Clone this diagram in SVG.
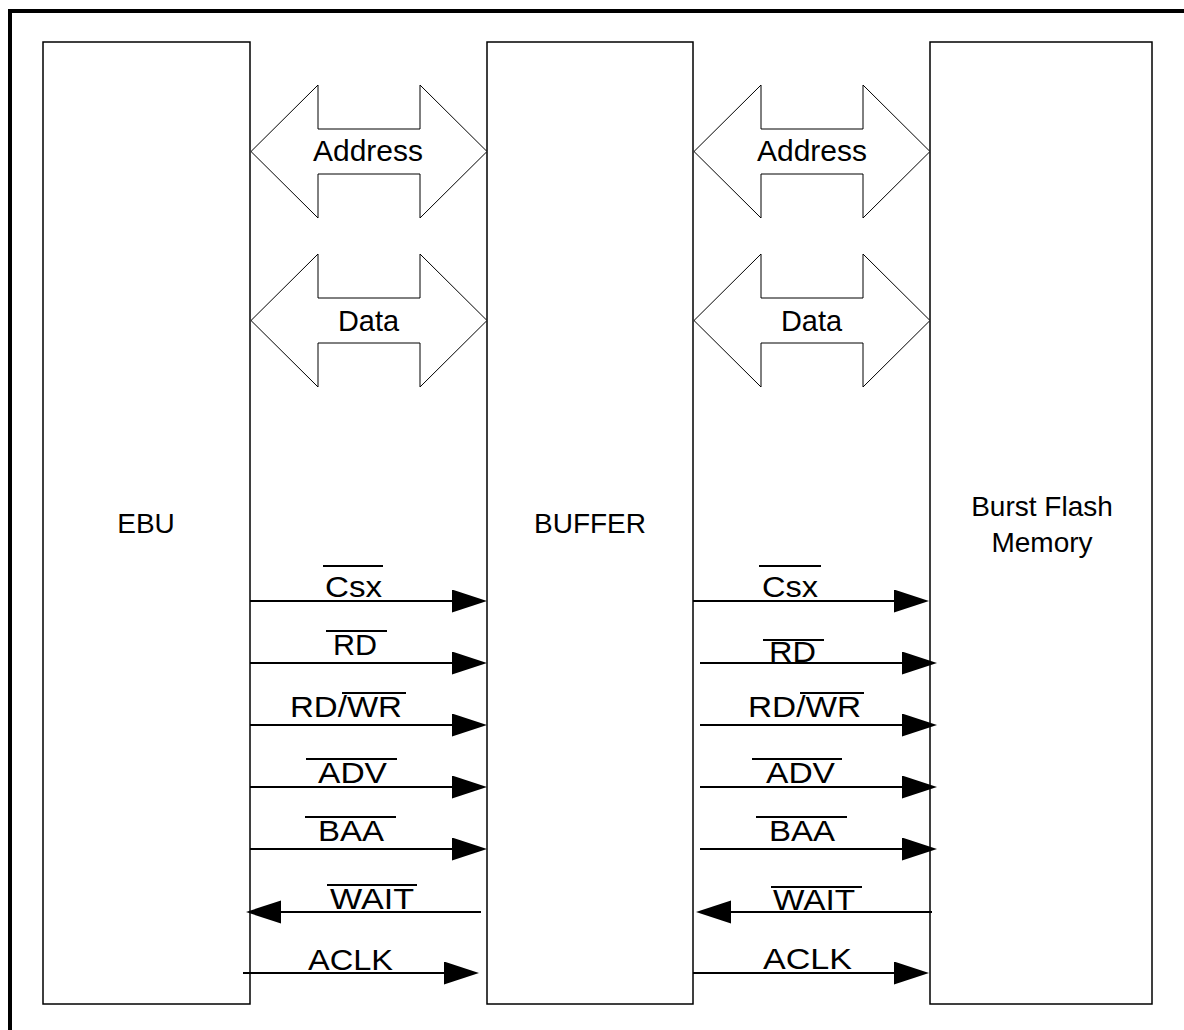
<svg xmlns="http://www.w3.org/2000/svg" width="1184" height="1030" viewBox="0 0 1184 1030">
<style>
.box{fill:#fff;stroke:#000;stroke-width:1.5}
.bus{fill:#fff;stroke:#000;stroke-width:1}
.sig{stroke:#000;stroke-width:2;fill:none}
.ov{stroke:#000;stroke-width:2}
text{font-family:"Liberation Sans",Arial,sans-serif;font-size:28px;fill:#000}
.lb{font-size:30px}
.c{text-anchor:middle}
</style>
<defs>
<marker id="ah" markerUnits="userSpaceOnUse" markerWidth="36" markerHeight="24" refX="25" refY="11.5" orient="auto" viewBox="0 0 36 24">
<path d="M0,0 L35,11.5 L0,23 z" fill="#000"/>
</marker>
<polygon id="dbl" points="0,0 67,-66.5 67,-22.5 169,-22.5 169,-66.5 236,0 169,66.5 169,22.5 67,22.5 67,66.5"/>
</defs>
<rect x="10" y="11" width="1182" height="1030" fill="#fff" stroke="#000" stroke-width="4"/>
<g id="ebu"><rect class="box" x="43" y="42" width="207" height="962"/><text class="c" x="146" y="533">EBU</text></g>
<g id="buffer"><rect class="box" x="487" y="42" width="206" height="962"/><text class="c" x="590" y="533">BUFFER</text></g>
<g id="flash"><rect class="box" x="930" y="42" width="222" height="962"/><text class="c" x="1042" y="516">Burst Flash</text><text class="c" x="1042" y="552">Memory</text></g>
<g id="bus-address-left"><use href="#dbl" class="bus" x="251" y="151.5"/><text class="lb" x="313" y="161" textLength="110" lengthAdjust="spacingAndGlyphs">Address</text></g>
<g id="bus-data-left"><use href="#dbl" class="bus" x="251" y="320.5"/><text class="lb" x="338" y="331" textLength="61" lengthAdjust="spacingAndGlyphs">Data</text></g>
<g id="bus-address-right"><use href="#dbl" class="bus" x="694" y="151.5"/><text class="lb" x="757" y="161" textLength="110" lengthAdjust="spacingAndGlyphs">Address</text></g>
<g id="bus-data-right"><use href="#dbl" class="bus" x="694" y="320.5"/><text class="lb" x="781" y="331" textLength="61" lengthAdjust="spacingAndGlyphs">Data</text></g>
<g id="connectors">
<line class="sig" x1="250" y1="601" x2="477" y2="601" marker-end="url(#ah)"/>
<line class="sig" x1="250" y1="663" x2="477" y2="663" marker-end="url(#ah)"/>
<line class="sig" x1="250" y1="725" x2="477" y2="725" marker-end="url(#ah)"/>
<line class="sig" x1="250" y1="787" x2="477" y2="787" marker-end="url(#ah)"/>
<line class="sig" x1="250" y1="849" x2="477" y2="849" marker-end="url(#ah)"/>
<line class="sig" x1="481" y1="912" x2="256" y2="912" marker-end="url(#ah)"/>
<line class="sig" x1="243" y1="973" x2="469" y2="973" marker-end="url(#ah)"/>
<line class="sig" x1="693" y1="601" x2="919" y2="601" marker-end="url(#ah)"/>
<line class="sig" x1="700" y1="663" x2="927" y2="663" marker-end="url(#ah)"/>
<line class="sig" x1="700" y1="725" x2="927" y2="725" marker-end="url(#ah)"/>
<line class="sig" x1="700" y1="787" x2="927" y2="787" marker-end="url(#ah)"/>
<line class="sig" x1="700" y1="849" x2="927" y2="849" marker-end="url(#ah)"/>
<line class="sig" x1="932" y1="912" x2="706" y2="912" marker-end="url(#ah)"/>
<line class="sig" x1="693" y1="973" x2="919" y2="973" marker-end="url(#ah)"/>
</g>
<g id="labels">
<text class="lb" x="325" y="597" textLength="57" lengthAdjust="spacingAndGlyphs">Csx</text><line class="ov" x1="323" y1="566" x2="383" y2="566"/>
<text class="lb" x="333" y="655" textLength="44" lengthAdjust="spacingAndGlyphs">RD</text><line class="ov" x1="326" y1="631" x2="387" y2="631"/>
<text class="lb" x="290" y="717" textLength="112" lengthAdjust="spacingAndGlyphs">RD/WR</text><line class="ov" x1="342" y1="693" x2="406" y2="693"/>
<text class="lb" x="318" y="783" textLength="69" lengthAdjust="spacingAndGlyphs">ADV</text><line class="ov" x1="306" y1="759" x2="397" y2="759"/>
<text class="lb" x="318" y="841" textLength="66" lengthAdjust="spacingAndGlyphs">BAA</text><line class="ov" x1="305" y1="817" x2="396" y2="817"/>
<text class="lb" x="330" y="909" textLength="84" lengthAdjust="spacingAndGlyphs">WAIT</text><line class="ov" x1="327" y1="885" x2="417" y2="885"/>
<text class="lb" x="308" y="970" textLength="85" lengthAdjust="spacingAndGlyphs">ACLK</text>
<text class="lb" x="762" y="597" textLength="56" lengthAdjust="spacingAndGlyphs">Csx</text><line class="ov" x1="759" y1="566" x2="821" y2="566"/>
<text class="lb" x="769" y="662" textLength="47" lengthAdjust="spacingAndGlyphs">RD</text><line class="ov" x1="763" y1="640" x2="824" y2="640"/>
<text class="lb" x="748" y="717" textLength="113" lengthAdjust="spacingAndGlyphs">RD/WR</text><line class="ov" x1="800" y1="693" x2="864" y2="693"/>
<text class="lb" x="766" y="783" textLength="69" lengthAdjust="spacingAndGlyphs">ADV</text><line class="ov" x1="752" y1="759" x2="842" y2="759"/>
<text class="lb" x="769" y="841" textLength="66" lengthAdjust="spacingAndGlyphs">BAA</text><line class="ov" x1="756" y1="817" x2="847" y2="817"/>
<text class="lb" x="773" y="910" textLength="82" lengthAdjust="spacingAndGlyphs">WAIT</text><line class="ov" x1="771" y1="887" x2="862" y2="887"/>
<text class="lb" x="763" y="969" textLength="89" lengthAdjust="spacingAndGlyphs">ACLK</text>
</g>
</svg>
